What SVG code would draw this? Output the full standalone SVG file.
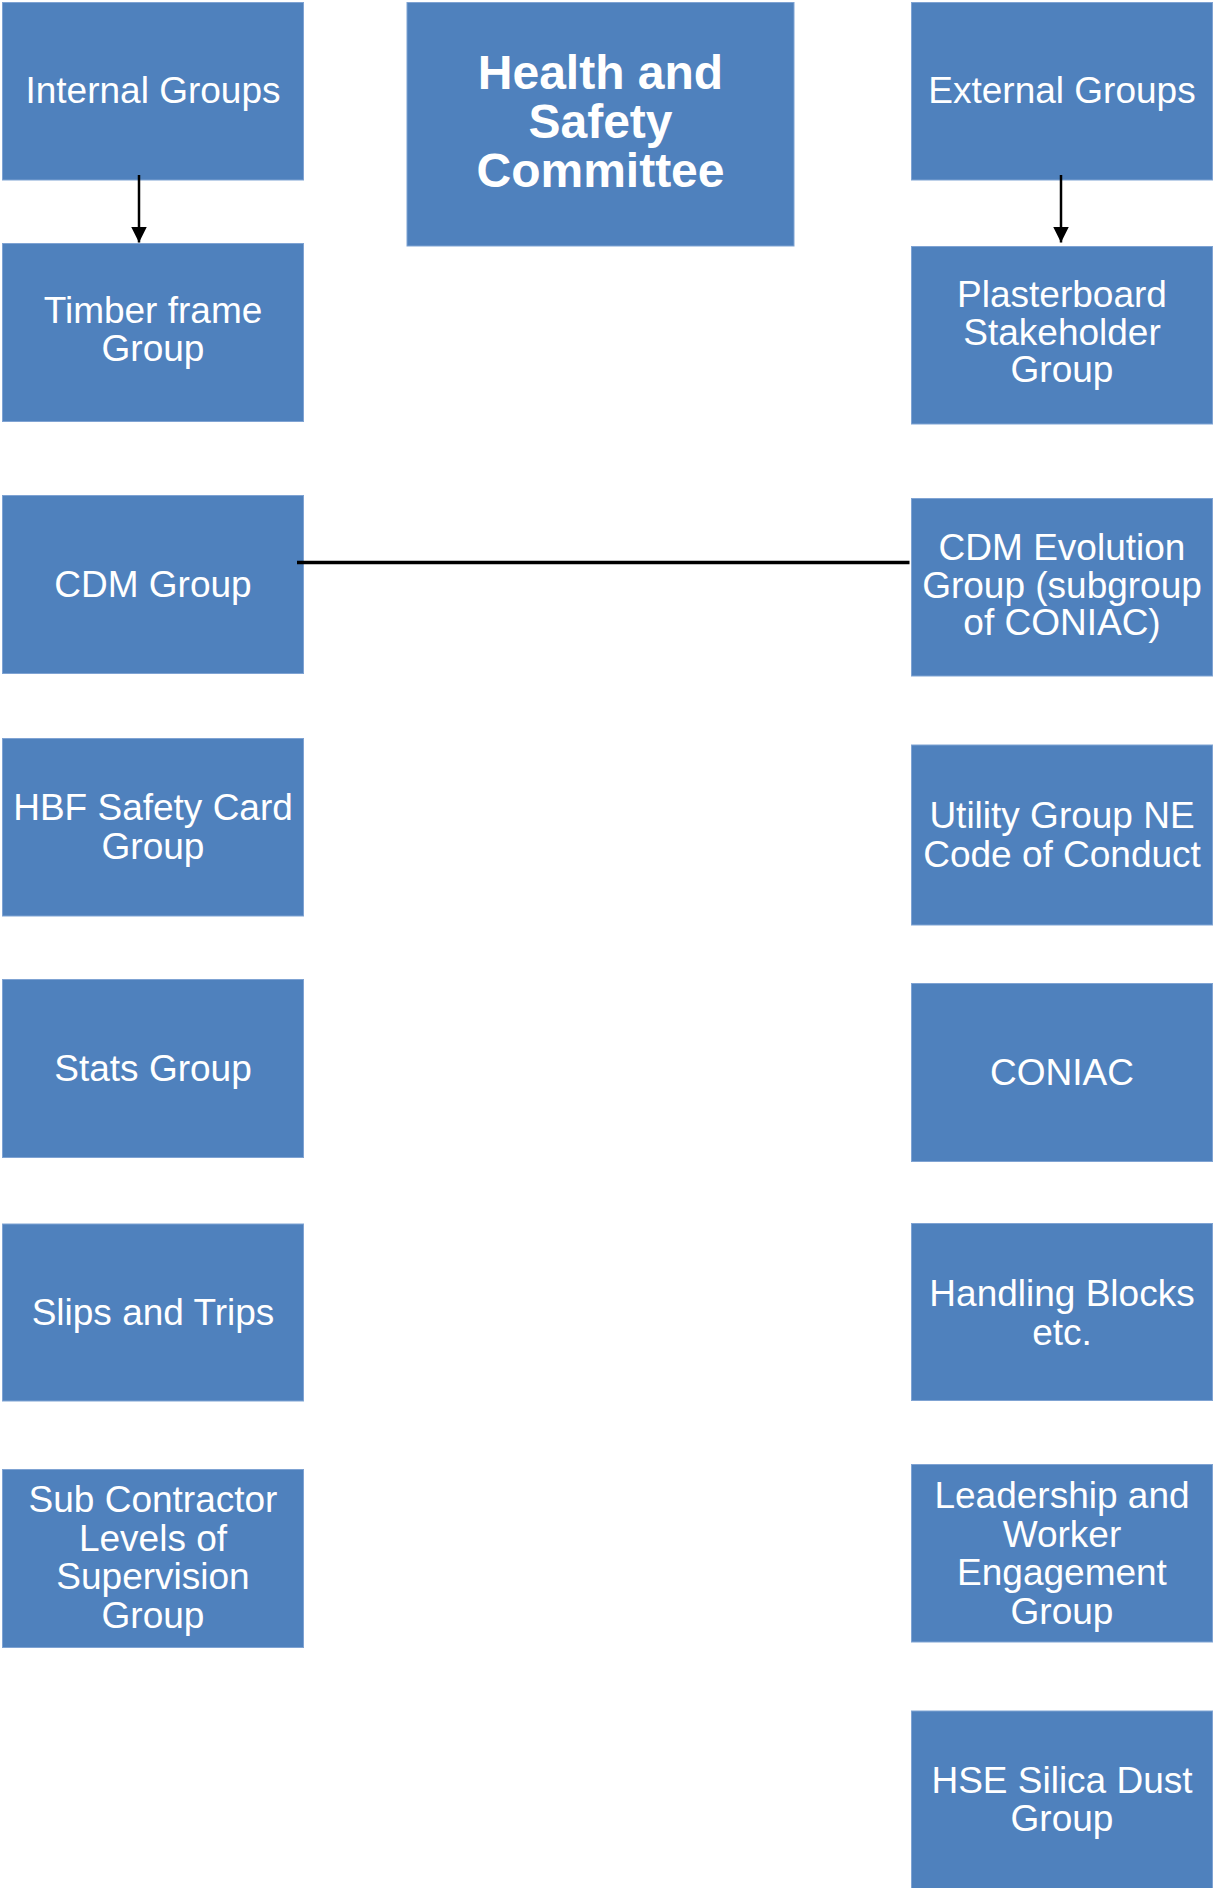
<svg xmlns="http://www.w3.org/2000/svg" width="1213" height="1888" viewBox="0 0 1213 1888">
<style>
.box{fill:#4F81BD;stroke:#7FA3D3;stroke-width:1}
.t{font-family:"Liberation Sans",Arial,sans-serif;font-size:37px;fill:#FFFFFF;text-anchor:middle}
.tb{font-family:"Liberation Sans",Arial,sans-serif;font-size:48px;font-weight:bold;fill:#FFFFFF;text-anchor:middle}
.conn{stroke:#000000;fill:none}
</style>
<defs>
<marker id="arr" viewBox="0 0 10 10" refX="10" refY="5" markerWidth="6.4" markerHeight="6.4" markerUnits="strokeWidth" orient="auto">
<path d="M0,0 L10,5 L0,10 Z" fill="#000000"/>
</marker>
</defs>
<rect width="1213" height="1888" fill="#FFFFFF"/>
<g id="n-hs">
<rect class="box" x="407" y="2.5" width="387" height="243.5"/>
<text class="tb" x="600.5" y="89">Health and</text>
<text class="tb" x="600.5" y="138">Safety</text>
<text class="tb" x="600.5" y="187">Committee</text>
</g>
<g id="n-internal">
<rect class="box" x="2.5" y="2.5" width="301" height="177.5"/>
<text class="t" x="153" y="102.5">Internal Groups</text>
</g>
<g id="n-timber">
<rect class="box" x="2.5" y="243.5" width="301" height="178"/>
<text class="t" x="153" y="323">Timber frame</text>
<text class="t" x="153" y="361">Group</text>
</g>
<g id="n-cdm">
<rect class="box" x="2.5" y="495.5" width="301" height="178"/>
<text class="t" x="153" y="596.5">CDM Group</text>
</g>
<g id="n-hbf">
<rect class="box" x="2.5" y="738.5" width="301" height="177.5"/>
<text class="t" x="153" y="820">HBF Safety Card</text>
<text class="t" x="153" y="858.5">Group</text>
</g>
<g id="n-stats">
<rect class="box" x="2.5" y="979.5" width="301" height="178"/>
<text class="t" x="153" y="1081">Stats Group</text>
</g>
<g id="n-slips">
<rect class="box" x="2.5" y="1224" width="301" height="177"/>
<text class="t" x="153" y="1325">Slips and Trips</text>
</g>
<g id="n-sub">
<rect class="box" x="2.5" y="1469.5" width="301" height="178"/>
<text class="t" x="153" y="1512">Sub Contractor</text>
<text class="t" x="153" y="1550.5">Levels of</text>
<text class="t" x="153" y="1589">Supervision</text>
<text class="t" x="153" y="1627.5">Group</text>
</g>
<g id="n-external">
<rect class="box" x="911.5" y="2.5" width="301" height="177.5"/>
<text class="t" x="1062" y="102.5">External Groups</text>
</g>
<g id="n-plaster">
<rect class="box" x="911.5" y="246.5" width="301" height="177.5"/>
<text class="t" x="1062" y="306.5">Plasterboard</text>
<text class="t" x="1062" y="345">Stakeholder</text>
<text class="t" x="1062" y="382">Group</text>
</g>
<g id="n-cdmevo">
<rect class="box" x="911.5" y="498.5" width="301" height="177.5"/>
<text class="t" x="1062" y="560">CDM Evolution</text>
<text class="t" x="1062" y="598">Group (subgroup</text>
<text class="t" x="1062" y="635">of CONIAC)</text>
</g>
<g id="n-utility">
<rect class="box" x="911.5" y="745" width="301" height="180"/>
<text class="t" x="1062" y="828">Utility Group NE</text>
<text class="t" x="1062" y="866.5">Code of Conduct</text>
</g>
<g id="n-coniac">
<rect class="box" x="911.5" y="983.5" width="301" height="178"/>
<text class="t" x="1062" y="1085">CONIAC</text>
</g>
<g id="n-handling">
<rect class="box" x="911.5" y="1223.5" width="301" height="177"/>
<text class="t" x="1062" y="1306">Handling Blocks</text>
<text class="t" x="1062" y="1345">etc.</text>
</g>
<g id="n-leader">
<rect class="box" x="911.5" y="1464.5" width="301" height="177.5"/>
<text class="t" x="1062" y="1508">Leadership and</text>
<text class="t" x="1062" y="1546.5">Worker</text>
<text class="t" x="1062" y="1585">Engagement</text>
<text class="t" x="1062" y="1623.5">Group</text>
</g>
<g id="n-hse">
<rect class="box" x="911.5" y="1711" width="301" height="180"/>
<text class="t" x="1062" y="1792.5">HSE Silica Dust</text>
<text class="t" x="1062" y="1830.5">Group</text>
</g>
<g id="connectors">
<line class="conn" x1="139" y1="175" x2="139" y2="242.5" stroke-width="2.5" marker-end="url(#arr)"/>
<line class="conn" x1="1061" y1="175" x2="1061" y2="242.5" stroke-width="2.5" marker-end="url(#arr)"/>
<line class="conn" x1="297" y1="562.5" x2="909.5" y2="562.5" stroke-width="3.5"/>
</g>
</svg>
